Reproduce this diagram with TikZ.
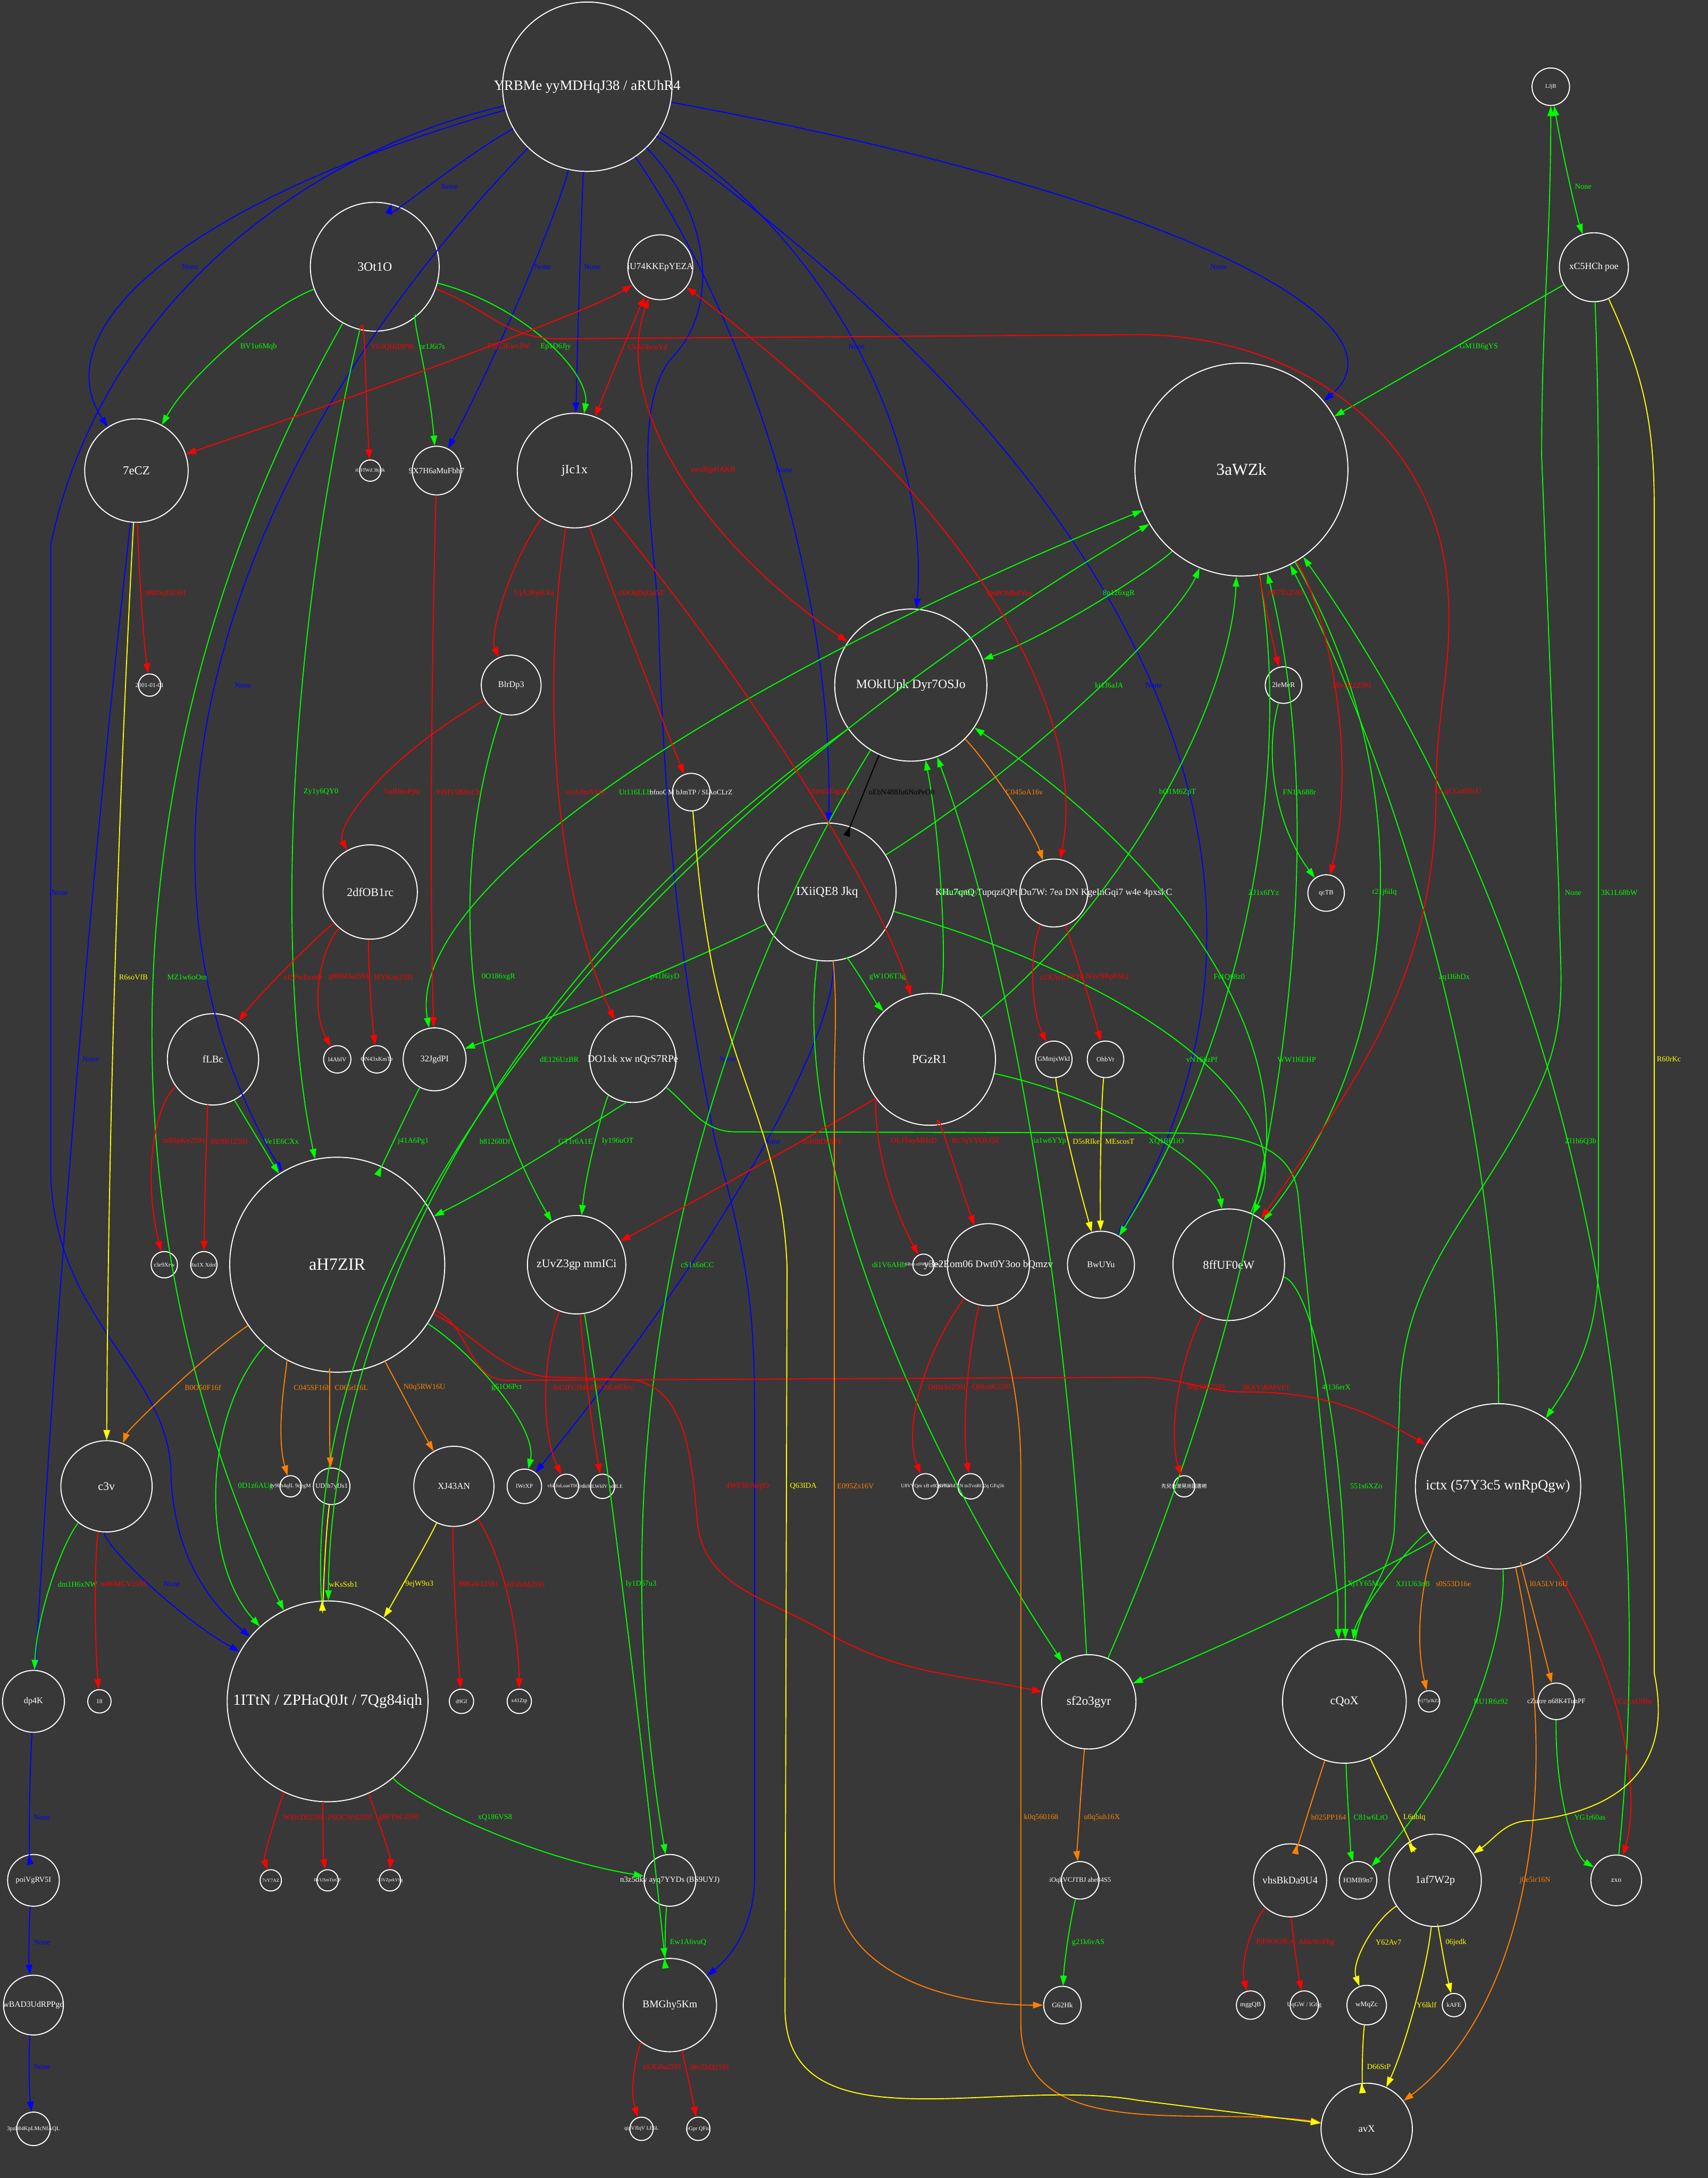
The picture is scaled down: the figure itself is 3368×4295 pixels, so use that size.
\documentclass[tikz,border=0pt]{standalone}
\usepackage{fontspec}
\setmainfont{Liberation Serif}
\newfontfamily\cjk{Noto Sans CJK SC}
\usetikzlibrary{calc,arrows.meta}
\definecolor{bgc}{HTML}{383838}
\definecolor{cg}{HTML}{00FF00}
\definecolor{cr}{HTML}{FF0000}
\definecolor{cb}{HTML}{0000FF}
\definecolor{cy}{HTML}{FFFF00}
\definecolor{co}{HTML}{FF8000}
\definecolor{ck}{HTML}{000000}

% edge from #2 to #3, bent so that it runs just left of label node #4
\newcommand{\gedge}[4]{\draw[#1] (#2) .. controls ($1.3333*(#4.west)-0.3333*(#3)+(-10,0)$) and ($1.3333*(#4.west)-0.3333*(#2)+(-10,0)$) .. (#3);}

\begin{document}
\begin{tikzpicture}[x=1pt,y=-1pt,
  gn/.style={circle,draw=white,line width=2pt,text=white,inner sep=0pt,minimum size=#1pt,
    execute at begin node={\hbox to 0pt\bgroup\hss},execute at end node={\hss\egroup}},
  fs/.style={font=\fontsize{#1}{#1}\selectfont},
  lbl/.style={text=#1,inner sep=0pt,font=\fontsize{15}{15}\selectfont},
  e/.style={draw=#1,line width=2pt,-{Triangle[length=20pt,width=13pt]}},
  bo/.style={arrows={Triangle[length=20pt,width=13pt]-Triangle[length=20pt,width=13pt]}}]
\useasboundingbox (0,0) rectangle (3368,4295);
\fill[bgc] (0,0) rectangle (3368,4295);

% nodes
\node[gn=334,fs=28] (yrb) at (1158,171) {YRBMe yyMDHqJ38 / aRUhR4};
\node[gn=254,fs=25] (ot1) at (739,526) {3Ot1O};
\node[gn=204,fs=24] (ecz) at (269,928) {7eCZ};
\node[gn=42,fs=10] (igf) at (730,928) {iGFfWd 3hj0k};
\node[gn=96,fs=16] (x7h) at (861,928) {9X7H6aMuFbh7};
\node[gn=226,fs=25] (jic) at (1133,928) {jIc1x};
\node[gn=128,fs=18] (u74) at (1302,527) {iU74KKEpYEZA};
\node[gn=74,fs=11] (ljj) at (3058,171) {LJjB};
\node[gn=136,fs=18.5] (xch) at (3143,527) {xC5HCh poe};
\node[gn=420,fs=33] (awz) at (2448,926) {3aWZk};
\node[gn=44,fs=12] (d01) at (295,1351) {2001-01-01};
\node[gn=118,fs=17] (blr) at (1008,1351) {BlrDp3};
\node[gn=186,fs=23] (dfo) at (730,1759) {2dfOB1rc};
\node[gn=180,fs=20] (flb) at (420,2089) {fLBc};
\node[gn=54,fs=12] (l4a) at (665,2089) {l4AblV};
\node[gn=54,fs=11.7] (on4) at (743,2089) {ON43xKmTe};
\node[gn=124,fs=17] (jgd) at (857,2089) {32JgdPI};
\node[gn=300,fs=25] (mok) at (1796,1351) {MOkIUpk Dyr7OSJo};
\node[gn=74,fs=14] (bfn) at (1363,1562) {bfnoGM bJmTP / SIAoCLrZ};
\node[gn=272,fs=24] (ixi) at (1631,1759) {IXiiQE8 Jkq};
\node[gn=134,fs=18.5] (khu) at (2078,1761) {KHu7qnQ TupqziQPt Du7W: 7ea DN KgeInGqi7 w4e 4pxskC};
\node[gn=260,fs=24] (pgz) at (1833,2089) {PGzR1};
\node[gn=72,fs=13] (gmm) at (2078,2089) {GMmjxWkI};
\node[gn=72,fs=13] (ohb) at (2180,2089) {OhbVr};
\node[gn=170,fs=20] (dox) at (1248,2089) {DO1xk xw nQrS7RPe};
\node[gn=72,fs=14] (lem) at (2531,1351) {2leMeR};
\node[gn=72,fs=13] (qct) at (2615,1761) {qcTB};
\node[gn=424,fs=34] (ahz) at (665,2494) {aH7ZIR};
\node[gn=52,fs=11.5] (r3e) at (324,2494) {r3e9Xrw};
\node[gn=52,fs=11] (ru1) at (402,2494) {Ru1X Xdo0};
\node[gn=194,fs=23] (zuv) at (1137,2494) {zUvZ3gp mmICi};
\node[gn=180,fs=23] (c3v) at (210,2931) {c3v};
\node[gn=42,fs=11] (iv9) at (573,2931) {Iv9bh4qlL 9qegM};
\node[gn=72,fs=13] (udi) at (654,2931) {UDIh7yfJs1};
\node[gn=158,fs=18] (xja) at (895,2931) {XJ43AN};
\node[gn=68,fs=11.7] (iwr) at (1034,2931) {IWrXP};
\node[gn=48,fs=10] (vbl) at (1117,2931) {vbLJoLoaeT0Cje5};
\node[gn=48,fs=10] (zn9) at (1188,2931) {zn9dLWIdV uddLE};
\node[gn=396,fs=30.5] (itt) at (646,3355) {1ITtN / ZPHaQ0Jt / 7Qg84iqh};
\node[gn=162,fs=20] (y3e) at (1949,2494) {y3e2Eom06 Dwt0Y3oo bQmzv};
\node[gn=42,fs=9] (sbv) at (1821,2494) {SBvn n9WyeLCou2};
\node[gn=132,fs=17] (bwu) at (2171,2494) {BwUYu};
\node[gn=50,fs=10] (u8v) at (1825,2931) {U8VVQm xB e8Q6vNa};
\node[gn=50,fs=10] (tnt) at (1914,2931) {gOVJJhEEN tnTvnRO2q GFq56};
\node[gn=42,fs=10] (cjk) at (2335,2931) {\cjk 先兒扗瀠晃尚圖書椨};
\node[gn=220,fs=23.5] (ffu) at (2423,2494) {8ffUF0eW};
\node[gn=326,fs=28] (ict) at (2954,2931) {ictx (57Y3c5 wnRpQgw)};
\node[gn=122,fs=17] (dpk) at (66,3355) {dp4K};
\node[gn=46,fs=12] (n18) at (196,3355) {18};
\node[gn=48,fs=11] (d9g) at (910,3355) {d9Gf};
\node[gn=48,fs=11] (x41) at (1024,3355) {x41Ztp};
\node[gn=42,fs=9.5] (vy7) at (534,3708) {7vY7AZ};
\node[gn=42,fs=9] (rvu) at (646,3708) {RVUSmTtzQP};
\node[gn=42,fs=9] (q3v) at (769,3708) {Q3VZprkYSg};
\node[gn=102,fs=15] (poi) at (66,3708) {poiVgRV5I};
\node[gn=118,fs=16.4] (wba) at (66,3954) {wBAD3UdRPPgd};
\node[gn=66,fs=11.3] (pzh) at (66,4198) {3pzh84KpLMcNfAQL};
\node[gn=102,fs=15.5] (n3z) at (1321,3708) {n3z5dky ayq7YYDs (BS9UYJ)};
\node[gn=184,fs=20.4] (bmg) at (1321,3954) {BMGhy5Km};
\node[gn=46,fs=10.4] (qip) at (1265,4198) {qipVJIqV LE6L};
\node[gn=46,fs=11] (egp) at (1377,4198) {eGpr QFnl};
\node[gn=186,fs=24.6] (sfo) at (2147,3356) {sf2o3gyr};
\node[gn=74,fs=13.3] (ioq) at (2130,3708) {iOqkVCJTBJ ahe84S5};
\node[gn=74,fs=14] (g62) at (2095,3954) {G62Hk};
\node[gn=244,fs=23.3] (cqo) at (2651,3355) {cQoX};
\node[gn=42,fs=9] (vj7) at (2818,3355) {Vj77p3kZ2};
\node[gn=72,fs=13.6] (czu) at (3069,3355) {cZuzre n68K4TunPF};
\node[gn=144,fs=20] (vhs) at (2544,3708) {vhsBkDa9U4};
\node[gn=74,fs=13.7] (h3m) at (2678,3708) {H3MB9n7};
\node[gn=182,fs=21] (afw) at (2830,3708) {1af7W2p};
\node[gn=100,fs=14] (zxo) at (3187,3708) {zxo};
\node[gn=56,fs=13] (mgg) at (2466,3954) {mggQB};
\node[gn=56,fs=12] (uqg) at (2572,3954) {UqGW / lG6g};
\node[gn=78,fs=14] (wmq) at (2695,3954) {wMqZc};
\node[gn=46,fs=12] (kaf) at (2867,3954) {kAFE};
\node[gn=180,fs=19.6] (avx) at (2695,4198) {avX};

% blue
\node[lbl=cb] (b1) at (886,368) {None};
\node[lbl=cb] (b2) at (375,526) {None};
\node[lbl=cb] (b3) at (1070,526) {None};
\node[lbl=cb] (b4) at (1168,526) {None};
\node[lbl=cb] (b5) at (2403,526) {None};
\node[lbl=cb] (b6) at (1689,684) {None};
\node[lbl=cb] (b7) at (1546,927) {None};
\node[lbl=cb] (b8) at (479,1351) {None};
\node[lbl=cb] (b9) at (2275,1351) {None};
\node[lbl=cb] (b10) at (118,1760) {None};
\node[lbl=cb] (b11) at (1435,2089) {None};
\node[lbl=cb] (b12) at (179,2089) {None};
\node[lbl=cb] (b13) at (1523,2251) {None};
\node[lbl=cb] (b14) at (339,3124) {None};
\node[lbl=cb] (b15) at (83,3584) {None};
\node[lbl=cb] (b16) at (83,3830) {None};
\node[lbl=cb] (b17) at (83,4076) {None};
\gedge{e=cb}{yrb}{ot1}{b1}
\gedge{e=cb}{yrb}{ecz}{b2}
\gedge{e=cb}{yrb}{x7h}{b3}
\gedge{e=cb}{yrb}{jic}{b4}
\gedge{e=cb}{yrb}{awz}{b5}
\gedge{e=cb}{yrb}{mok}{b6}
\gedge{e=cb}{yrb}{ixi}{b7}
\gedge{e=cb}{yrb}{ahz}{b8}
\gedge{e=cb}{yrb}{bwu}{b9}
\draw[e=cb] (yrb) .. controls (600,300) and (200,600) .. (100,1074) -- (100,2300) .. controls (100,2600) and (330,2700) .. (337,2900) .. controls (340,3050) and (400,3150) .. (itt);
\draw[e=cb] (yrb) .. controls (1400,420) and (1420,600) .. (1330,700) .. controls (1250,780) and (1280,1000) .. (1298,1200) .. controls (1310,1700) and (1360,2000) .. (1410,2250) .. controls (1480,2500) and (1488,2600) .. (1488,2800) -- (1488,3700) .. controls (1488,3800) and (1440,3860) .. (bmg);
\gedge{e=cb}{ecz}{dpk}{b12}
\gedge{e=cb}{ixi}{iwr}{b13}
\gedge{e=cb}{c3v}{itt}{b14}
\gedge{e=cb}{dpk}{poi}{b15}
\gedge{e=cb}{poi}{wba}{b16}
\gedge{e=cb}{wba}{pzh}{b17}

% green
\node[lbl=cg] (g1) at (510,684) {BV1u6Mqb};
\node[lbl=cg] (g2) at (852,684) {nr1J6i7s};
\node[lbl=cg] (g3) at (1096,684) {Ep1D6Jjy};
\node[lbl=cg] (g4) at (633,1562) {Zy1y6QY0};
\node[lbl=cg] (g5) at (369,1927) {MZ1w6oOm};
\node[lbl=cg] (g6) at (3122,368) {None};
\node[lbl=cg] (g7) at (2916,684) {GM1B6gYS};
\node[lbl=cg] (g8) at (3193,1760) {3K1L68bW};
\node[lbl=cg] (g9) at (3102,1760) {None};
\node[lbl=cg] (g10) at (2206,1171) {8p126xgR};
\node[lbl=cg] (g11) at (2187,1351) {kt1J6aJA};
\node[lbl=cg] (g12) at (1252,1562) {Ut116LLb};
\node[lbl=cg] (g13) at (1103,2089) {dE126UzBR};
\node[lbl=cg] (g14) at (976,2251) {h81260Df};
\node[lbl=cg] (g15) at (983,1927) {0O186xgR};
\node[lbl=cg] (g16) at (1311,1927) {p41I6iyD};
\node[lbl=cg] (g17) at (1750,1927) {gW1O6T3g};
\node[lbl=cg] (g18) at (1893,1761) {Ktu7qnQLy};
\node[lbl=cg] (g19) at (2322,1562) {bO1M6ZpT};
\node[lbl=cg] (g20) at (2562,1562) {FN1A688r};
\node[lbl=cg] (g21) at (2492,1760) {ZJ1x6fYz};
\node[lbl=cg] (g22) at (2730,1760) {r21j6iIq};
\node[lbl=cg] (g23) at (2424,1927) {Fs1Q68z0};
\node[lbl=cg] (g24) at (2868,1927) {aq1I6hDx};
\node[lbl=cg] (g25) at (2370,2089) {vN1S6zPf};
\node[lbl=cg] (g26) at (2557,2089) {WW1l6EHP};
\node[lbl=cg] (g27) at (555,2251) {Ve1E6CXx};
\node[lbl=cg] (g28) at (815,2251) {j41A6Pg1};
\node[lbl=cg] (g29) at (1135,2251) {GT1r6A1E};
\node[lbl=cg] (g30) at (1218,2251) {Iy196uOT};
\node[lbl=cg] (g31) at (999,2736) {g51O6Pct};
\node[lbl=cg] (g32) at (504,2931) {0D1z6AUg};
\node[lbl=cg] (g33) at (153,3124) {dm1H6xNW};
\node[lbl=cg] (g34) at (2070,2251) {ia1w6YYp};
\node[lbl=cg] (g35) at (1375,2494) {cS1x6nCC};
\node[lbl=cg] (g36) at (1753,2494) {di1V6AHb};
\node[lbl=cg] (g37) at (1264,3124) {Iy1D67u3};
\node[lbl=cg] (g38) at (2300,2251) {XQ1R61iO};
\node[lbl=cg] (g39) at (3117,2251) {Zl1h6Q3b};
\node[lbl=cg] (g40) at (2635,2736) {4i136erX};
\node[lbl=cg] (g41) at (2694,2931) {551s6XZo};
\node[lbl=cg] (g42) at (2691,3124) {Xj1Y65Ma};
\node[lbl=cg] (g43) at (2786,3124) {XJ1U63nB};
\node[lbl=cg] (g44) at (976,3584) {xQ186VS8};
\node[lbl=cg] (g45) at (1357,3830) {Ew1A6vuQ};
\node[lbl=cg] (g46) at (2146,3830) {g21k6vAS};
\node[lbl=cg] (g47) at (2940,3355) {RU1R6z92};
\node[lbl=cg] (g48) at (2703,3584) {C81w6LtO};
\node[lbl=cg] (g49) at (3135,3584) {YG1r60as};
\gedge{e=cg}{ot1}{ecz}{g1}
\gedge{e=cg}{ot1}{x7h}{g2}
\gedge{e=cg}{ot1}{jic}{g3}
\gedge{e=cg}{ot1}{ahz}{g4}
\gedge{e=cg}{ot1}{itt}{g5}
\gedge{e=cg,bo}{xch}{ljj}{g6}
\gedge{e=cg}{xch}{awz}{g7}
\draw[e=cg] (xch) to[out=-88,in=90] (3152,1100) -- (3152,2480) to[out=-90,in=55] (ict);
\draw[e=cg] (cqo) to[out=80,in=-90] (2750,3000) -- (2760,2770) to[out=90,in=-115] (3033,2148) to[out=65,in=-90] (3074,1760) -- (3040,900) to[out=90,in=-90] (ljj);
\gedge{e=cg}{awz}{mok}{g10}
\gedge{e=cg}{ixi}{awz}{g11}
\gedge{e=cg,bo}{jgd}{awz}{g12}
\gedge{e=cg}{itt}{awz}{g13}
\gedge{e=cg}{mok}{itt}{g14}
\gedge{e=cg}{blr}{zuv}{g15}
\gedge{e=cg}{ixi}{jgd}{g16}
\gedge{e=cg}{ixi}{pgz}{g17}
\gedge{e=cg}{pgz}{mok}{g18}
\gedge{e=cg}{pgz}{awz}{g19}
\gedge{e=cg}{lem}{qct}{g20}
\gedge{e=cg}{awz}{bwu}{g21}
\gedge{e=cg}{awz}{ffu}{g22}
\gedge{e=cg}{ffu}{mok}{g23}
\gedge{e=cg}{ict}{awz}{g24}
\gedge{e=cg}{ixi}{ffu}{g25}
\gedge{e=cg}{sfo}{awz}{g26}
\gedge{e=cg}{flb}{ahz}{g27}
\gedge{e=cg}{jgd}{ahz}{g28}
\gedge{e=cg}{dox}{ahz}{g29}
\gedge{e=cg}{dox}{zuv}{g30}
\gedge{e=cg}{ahz}{iwr}{g31}
\gedge{e=cg}{ahz}{itt}{g32}
\gedge{e=cg}{c3v}{dpk}{g33}
\gedge{e=cg}{sfo}{mok}{g34}
\gedge{e=cg}{mok}{n3z}{g35}
\gedge{e=cg}{ixi}{sfo}{g36}
\gedge{e=cg}{zuv}{bmg}{g37}
\gedge{e=cg}{pgz}{ffu}{g38}
\gedge{e=cg}{zxo}{awz}{g39}
\gedge{e=cg}{ffu}{cqo}{g40}
\draw[e=cg] (dox) to[out=-40,in=180] (1450,2232) -- (2245,2234) to[out=0,in=95] (2560,2360) -- (2638,3150) to[out=-88,in=95] (cqo);
\gedge{e=cg}{ict}{sfo}{g42}
\gedge{e=cg}{ict}{cqo}{g43}
\gedge{e=cg}{itt}{n3z}{g44}
\gedge{e=cg}{n3z}{bmg}{g45}
\gedge{e=cg}{ioq}{g62}{g46}
\gedge{e=cg}{ict}{h3m}{g47}
\gedge{e=cg}{cqo}{h3m}{g48}
\gedge{e=cg}{czu}{zxo}{g49}

% red
\node[lbl=cr] (r1) at (774,684) {Y63QHtDP9b};
\node[lbl=cr] (r2) at (1003,684) {F3jCIEwvJW};
\node[lbl=cr] (r3) at (1277,684) {CkSt5bcuYd};
\node[lbl=cr] (r4) at (1406,927) {swxBjpHAKR};
\node[lbl=cr] (r5) at (1991,1171) {QnPOMbdYvp};
\node[lbl=cr] (r6) at (2875,1562) {GLgCGo8NcU};
\node[lbl=cr] (r7) at (327,1171) {98BSqD2591};
\node[lbl=cr] (r8) at (1053,1171) {UjA3PjeEYq};
\node[lbl=cr] (r9) at (792,1562) {7mBhIoPj6r};
\node[lbl=cr] (r10) at (903,1562) {YtMV0K6sCh};
\node[lbl=cr] (r11) at (597,1927) {xI5PwIzrm9};
\node[lbl=cr] (r12) at (688,1927) {g8H6Da2591};
\node[lbl=cr] (r13) at (777,1927) {I8YKne2591};
\node[lbl=cr] (r14) at (1265,1171) {oDOqDqQa5Z};
\node[lbl=cr] (r15) at (1155,1562) {uvAlmiYI4x};
\node[lbl=cr] (r16) at (1637,1562) {2tmy2EqpyK};
\node[lbl=cr] (r17) at (2094,1927) {o2XAcuVET6};
\node[lbl=cr] (r18) at (2183,1927) {N3yNRpF6Lj};
\node[lbl=cr] (r19) at (2535,1171) {j8F7Ts2591};
\node[lbl=cr] (r20) at (2666,1351) {28v2R22591};
\node[lbl=cr] (r21) at (363,2251) {m8SpKy2591};
\node[lbl=cr] (r22) at (453,2251) {f8c9R12591};
\node[lbl=cr] (r23) at (1130,2736) {8rGIFCfMc4};
\node[lbl=cr] (r24) at (1208,2736) {1WJnLn03ov};
\node[lbl=cr] (r25) at (244,3124) {m86MGV2591};
\node[lbl=cr] (r26) at (944,3124) {H8G6r12591};
\node[lbl=cr] (r27) at (1037,3124) {e85fuM2591};
\node[lbl=cr] (r28) at (1621,2251) {fo16hD8hP1};
\node[lbl=cr] (r29) at (1802,2251) {OLJTuyMHsD};
\node[lbl=cr] (r30) at (1924,2251) {Rc7qYYOLQZ};
\node[lbl=cr] (r31) at (1868,2736) {D8StSz2591};
\node[lbl=cr] (r32) at (1956,2736) {Q8zraK2591};
\node[lbl=cr] (r33) at (1474,2931) {4WF3IcNepO};
\node[lbl=cr] (r34) at (2496,2736) {3RXVd6MVF1};
\node[lbl=cr] (r35) at (2378,2736) {38g32C2591};
\node[lbl=cr] (r36) at (598,3584) {W8JcDf2591};
\node[lbl=cr] (r37) at (691,3584) {F6OCWd2591};
\node[lbl=cr] (r38) at (787,3584) {g8FT6C2591};
\node[lbl=cr] (r39) at (1306,4076) {z83G0a2591};
\node[lbl=cr] (r40) at (1399,4076) {38vZhD2591};
\node[lbl=cr] (r41) at (3219,3355) {YCcLxUif6s};
\node[lbl=cr] (r42) at (2514,3830) {PjF0ciG9Lv};
\node[lbl=cr] (r43) at (2596,3830) {Ahic8ctFhg};
\gedge{e=cr}{ot1}{igf}{r1}
\gedge{e=cr,bo}{ecz}{u74}{r2}
\gedge{e=cr,bo}{jic}{u74}{r3}
\gedge{e=cr,bo}{u74}{mok}{r4}
\gedge{e=cr,bo}{u74}{khu}{r5}
\draw[e=cr] (ot1) to[out=-20,in=180] (1100,668) -- (2245,660) to[out=0,in=95] (2854,1150) to[out=-85,in=90] (2832,1553) to[out=-90,in=55] (ffu);
\gedge{e=cr}{ecz}{d01}{r7}
\gedge{e=cr}{jic}{blr}{r8}
\gedge{e=cr}{blr}{dfo}{r9}
\gedge{e=cr}{x7h}{jgd}{r10}
\gedge{e=cr}{dfo}{flb}{r11}
\gedge{e=cr}{dfo}{l4a}{r12}
\gedge{e=cr}{dfo}{on4}{r13}
\gedge{e=cr}{jic}{bfn}{r14}
\gedge{e=cr}{jic}{dox}{r15}
\gedge{e=cr}{jic}{pgz}{r16}
\gedge{e=cr}{khu}{gmm}{r17}
\gedge{e=cr}{khu}{ohb}{r18}
\gedge{e=cr}{awz}{lem}{r19}
\gedge{e=cr}{awz}{qct}{r20}
\gedge{e=cr}{flb}{r3e}{r21}
\gedge{e=cr}{flb}{ru1}{r22}
\gedge{e=cr}{zuv}{vbl}{r23}
\gedge{e=cr}{zuv}{zn9}{r24}
\gedge{e=cr}{c3v}{n18}{r25}
\gedge{e=cr}{xja}{d9g}{r26}
\gedge{e=cr}{xja}{x41}{r27}
\gedge{e=cr}{pgz}{zuv}{r28}
\gedge{e=cr}{pgz}{sbv}{r29}
\gedge{e=cr}{pgz}{y3e}{r30}
\gedge{e=cr}{y3e}{u8v}{r31}
\gedge{e=cr}{y3e}{tnt}{r32}
\draw[e=cr] (ahz) to[out=-27,in=180] (1100,2716) -- (1230,2720) to[out=0,in=95] (1375,3000) to[out=-85,in=150] (1624,3216) to[out=-30,in=168] (sfo);
\draw[e=cr] (ahz) to[out=-25,in=180] (1000,2722) -- (2245,2716) to[out=0,in=180] (2460,2745) to[out=0,in=150] (ict);
\gedge{e=cr}{ffu}{cjk}{r35}
\gedge{e=cr}{itt}{vy7}{r36}
\gedge{e=cr}{itt}{rvu}{r37}
\gedge{e=cr}{itt}{q3v}{r38}
\gedge{e=cr}{bmg}{qip}{r39}
\gedge{e=cr}{bmg}{egp}{r40}
\gedge{e=cr}{ict}{zxo}{r41}
\gedge{e=cr}{vhs}{mgg}{r42}
\gedge{e=cr}{vhs}{uqg}{r43}

% orange
\node[lbl=co] (o1) at (2020,1562) {C045oA16v};
\node[lbl=co] (o2) at (400,2736) {B0O50F16f};
\node[lbl=co] (o3) at (615,2736) {C045SF16h};
\node[lbl=co] (o4) at (693,2736) {C065rl16L};
\node[lbl=co] (o5) at (837,2736) {N0q5RW16U};
\node[lbl=co] (o6) at (1687,2931) {E095Zs16V};
\node[lbl=co] (o7) at (2053,3584) {k0q560168};
\node[lbl=co] (o8) at (2173,3584) {u0q5uh16X};
\node[lbl=co] (o9) at (2866,3124) {s0S53D16e};
\node[lbl=co] (o10) at (3054,3124) {I0A5LV16U};
\node[lbl=co] (o11) at (2620,3584) {h025PP164};
\node[lbl=co] (o12) at (3027,3708) {j0e5ir16N};
\gedge{e=co}{mok}{khu}{o1}
\gedge{e=co}{ahz}{c3v}{o2}
\gedge{e=co}{ahz}{iv9}{o3}
\gedge{e=co}{ahz}{udi}{o4}
\gedge{e=co}{ahz}{xja}{o5}
\draw[e=co] (ixi) to[out=-85,in=90] (1645,2150) -- (1645,3700) to[out=-90,in=180] (g62);
\draw[e=co] (y3e) to[out=-78,in=90] (2013,2900) -- (2013,3990) to[out=-90,in=172] (avx);
\gedge{e=co}{sfo}{ioq}{o8}
\gedge{e=co}{ict}{vj7}{o9}
\gedge{e=co}{ict}{czu}{o10}
\gedge{e=co}{cqo}{vhs}{o11}
\gedge{e=co}{ict}{avx}{o12}

% yellow
\node[lbl=cy] (y1) at (263,1927) {R6soVfB};
\node[lbl=cy] (y2) at (3291,2089) {R60rKc};
\node[lbl=cy] (y3) at (677,3124) {wKsSsb1};
\node[lbl=cy] (y4) at (827,3124) {9ejW9o3};
\node[lbl=cy] (y5) at (2142,2251) {D5sRIke};
\node[lbl=cy] (y6) at (2208,2251) {MEscosT};
\node[lbl=cy] (y7) at (1584,2931) {Q63IDA};
\node[lbl=cy] (y8) at (2789,3584) {L6ublq};
\node[lbl=cy] (y9) at (2738,3830) {Y62Av7};
\node[lbl=cy] (y10) at (2871,3830) {06jedk};
\node[lbl=cy] (y11) at (2813,3954) {Y6lklf};
\node[lbl=cy] (y12) at (2719,4076) {D66StP};
\gedge{e=cy}{ecz}{c3v}{y1}
\draw[e=cy] (xch) to[out=-65,in=90] (3262,1000) -- (3262,3300) .. controls (3300,3480) and (3200,3570) .. (3020,3590) to[out=180,in=35] (afw);
\gedge{e=cy}{udi}{itt}{y3}
\gedge{e=cy}{xja}{itt}{y4}
\gedge{e=cy}{gmm}{bwu}{y5}
\gedge{e=cy}{ohb}{bwu}{y6}
\draw[e=cy] (bfn) to[out=-85,in=100] (1400,1880) to[out=-80,in=92] (1552,2500) -- (1548,3960) to[out=-90,in=170] (2246,4142) -- (avx);
\gedge{e=cy}{cqo}{afw}{y8}
\gedge{e=cy}{afw}{wmq}{y9}
\gedge{e=cy}{afw}{kaf}{y10}
\gedge{e=cy}{afw}{avx}{y11}
\gedge{e=cy}{wmq}{avx}{y12}

% black
\node[lbl=ck] (k1) at (1778,1562) {oEbN488Ju6NoPeO0};
\gedge{e=ck}{mok}{ixi}{k1}
\end{tikzpicture}
\end{document}
